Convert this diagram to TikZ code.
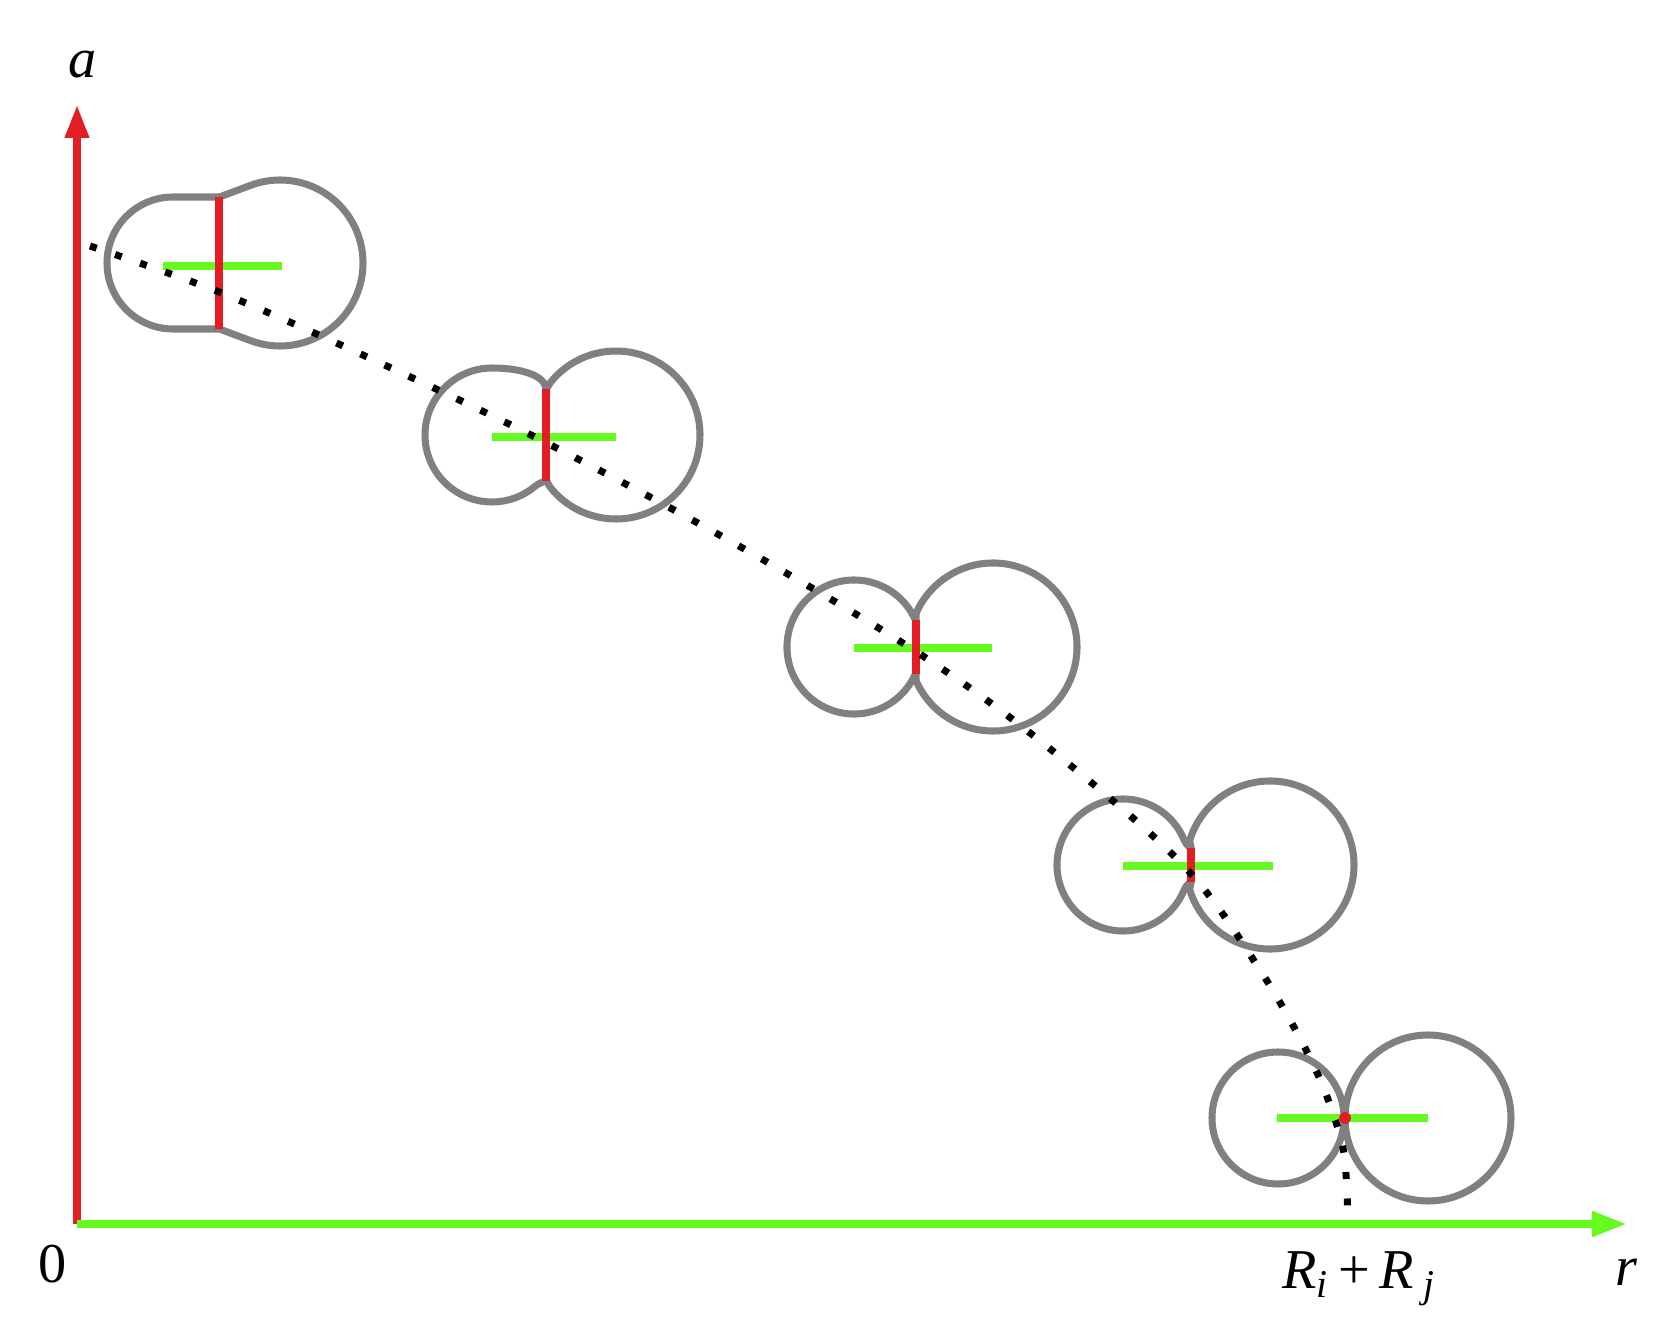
\documentclass[tikz,border=0pt]{standalone}
\usepackage{fontspec}
\setmainfont{Liberation Serif}
\usetikzlibrary{arrows.meta,calc}
\definecolor{axisred}{RGB}{226,30,36}
\definecolor{axisgreen}{RGB}{102,250,32}
\definecolor{lobegray}{RGB}{128,128,128}

\begin{document}
\begin{tikzpicture}[x=0.1mm,y=-0.1mm,line join=round,
    lobe/.style={color=lobegray, line width=2pt},
    centres/.style={color=axisgreen, line width=2pt},
    neck/.style={color=axisred, line width=2pt},
    link/.style={color=black, line width=0.7mm, dash pattern=on 0.7mm off 1.95mm},
    lbl/.style={font=\fontsize{16}{19}\selectfont, inner sep=0pt, anchor=base}]
  \useasboundingbox (0,0) rectangle (1680,1344);

  % axes
  \coordinate (O) at (77,1224);
  \coordinate (atip) at (77,105);
  \coordinate (rtip) at (1627,1224);
  \draw [color=axisred, line width=2pt, -{Triangle[length=3.3mm,width=2.3mm]}] (O) -- (atip);
  \draw [color=axisgreen, line width=2.2pt, -{Triangle[length=3.5mm,width=2.4mm]}] (O) -- (rtip);

  % pairs joined by a neck
  \foreach \yc/\xL/\rL/\pT/\kT/\m/\pL/\xR/\rR/\pR/\xn/\h/\k/\gL/\gR/\gy in {
      263/173/66/90/15/0/90/280/83/70/219/66/12/163/282/266,
      435/492/67/90/28/14/50/616/84/40/546/46/5/492/616/437,
      647/854/67/30/5/0/30/993/84/25/916/27/5/854/992/648,
      865/1123/66/22/4/0/22/1270/84/18/1191/17/4/1123/1273/866} {
      \draw [lobe] (\xn,\yc-\h) .. controls +(-1,-\m) and +({90-\pT}:\kT) .. ($(\xL,\yc)+({-\pT}:\rL)$)
        arc [start angle=-\pT, end angle=\pL-360, radius=\rL]
        .. controls +({\pL-90}:\k) and +(-1,0) .. (\xn,\yc+\h)
        .. controls +(1,0) and +({-\pR-90}:\k) .. ($(\xR,\yc)+({180-\pR}:\rR)$)
        arc [start angle=180-\pR, end angle=\pR-180, radius=\rR]
        .. controls +({\pR+90}:\k) and +(1,0) .. (\xn,\yc-\h) -- cycle;
      \draw [centres] (\gL,\gy) -- (\gR,\gy);
      \draw [neck] (\xn,\yc-\h) -- (\xn,\yc+\h);
    }

  % touching pair
  \draw [lobe] (1278,1118) circle [radius=66];
  \draw [lobe] (1428,1118) circle [radius=83];
  \draw [centres] (1277,1118) -- (1428,1118);

  \draw [link] plot [smooth, tension=0.55] coordinates {(90,246) (219,292) (365,356) (535,437)
      (723,537) (909,647) (1039,740) (1182,864) (1260,970) (1313,1064) (1341,1139) (1347,1192) (1347,1219)};
  \fill [axisred] (1345,1118) circle [radius=6];

  \node [lbl] (alab) at (83,78) {\textit{a}};
  \node [lbl] (zero) at (53,1282) {0};
  \node [lbl] (rsum) at (1359,1288) {\textit{R}\textsubscript{\textit{i}}\,+\,\textit{R}\,\textsubscript{\textit{j}}};
  \node [lbl] (rlab) at (1627,1285) {\textit{r}};
\end{tikzpicture}
\end{document}
